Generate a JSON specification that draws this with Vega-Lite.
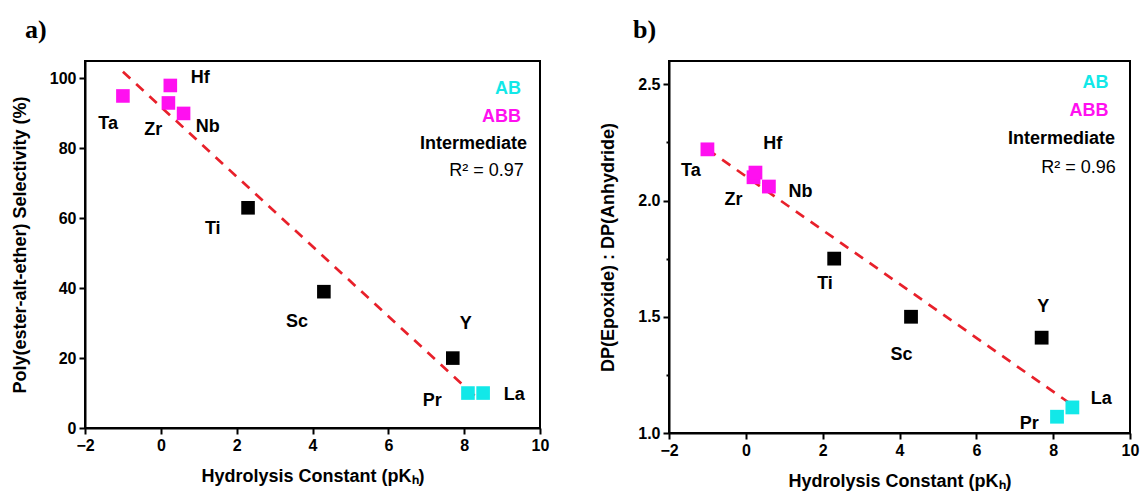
{
  "$schema": "https://vega.github.io/schema/vega-lite/v6.json",
  "background": "white",
  "padding": {"left": 10, "top": 16, "right": 2, "bottom": 2},
  "spacing": 48,
  "config": {
    "view": {"stroke": "black", "strokeWidth": 2},
    "axis": {
      "grid": false,
      "domainColor": "black", "domainWidth": 2,
      "tickColor": "black", "tickWidth": 2,
      "labelFont": "Liberation Sans", "labelFontWeight": "bold", "labelFontSize": 16, "labelColor": "black",
      "titleFont": "Liberation Sans", "titleFontWeight": "bold", "titleFontSize": 18, "titleColor": "black",
      "labelFlush": false, "labelOverlap": false
    },
    "title": {"font": "Liberation Serif", "fontWeight": "bold", "fontSize": 26, "color": "black", "anchor": "start", "frame": "group", "offset": 18}
  },
  "datasets": {
    "pa": [
      {"el": "Ta", "type": "ABB", "pkh": -1.0, "val": 95, "lx": -1.39, "ly": 87},
      {"el": "Zr", "type": "ABB", "pkh": 0.2, "val": 93, "lx": -0.2, "ly": 85.4},
      {"el": "Hf", "type": "ABB", "pkh": 0.25, "val": 98, "lx": 1.04, "ly": 100},
      {"el": "Nb", "type": "ABB", "pkh": 0.6, "val": 90, "lx": 1.24, "ly": 86.1},
      {"el": "Ti", "type": "Intermediate", "pkh": 2.3, "val": 63, "lx": 1.37, "ly": 56.8},
      {"el": "Sc", "type": "Intermediate", "pkh": 4.3, "val": 39, "lx": 3.59, "ly": 30.2},
      {"el": "Y", "type": "Intermediate", "pkh": 7.7, "val": 20, "lx": 8.04, "ly": 29.8},
      {"el": "Pr", "type": "AB", "pkh": 8.1, "val": 10, "lx": 7.16, "ly": 7.6},
      {"el": "La", "type": "AB", "pkh": 8.5, "val": 10, "lx": 9.32, "ly": 9.4}
    ],
    "pb": [
      {"el": "Ta", "type": "ABB", "pkh": -1.0, "val": 2.22, "lx": -1.43, "ly": 2.127},
      {"el": "Zr", "type": "ABB", "pkh": 0.2, "val": 2.10, "lx": -0.32, "ly": 2.002},
      {"el": "Hf", "type": "ABB", "pkh": 0.25, "val": 2.12, "lx": 0.7, "ly": 2.244},
      {"el": "Nb", "type": "ABB", "pkh": 0.6, "val": 2.06, "lx": 1.42, "ly": 2.036},
      {"el": "Ti", "type": "Intermediate", "pkh": 2.3, "val": 1.75, "lx": 2.06, "ly": 1.643},
      {"el": "Sc", "type": "Intermediate", "pkh": 4.3, "val": 1.50, "lx": 4.05, "ly": 1.337},
      {"el": "Y", "type": "Intermediate", "pkh": 7.7, "val": 1.41, "lx": 7.74, "ly": 1.543},
      {"el": "Pr", "type": "AB", "pkh": 8.1, "val": 1.07, "lx": 7.38, "ly": 1.04},
      {"el": "La", "type": "AB", "pkh": 8.5, "val": 1.11, "lx": 9.25, "ly": 1.148}
    ],
    "fa": [{"pkh": -1.0, "val": 101.9}, {"pkh": 8.29, "val": 9.1}],
    "fb": [{"pkh": -1.0, "val": 2.22}, {"pkh": 8.5, "val": 1.12}],
    "la": [
      {"t": "AB", "type": "AB", "x": 9.5, "y": 97.1},
      {"t": "ABB", "type": "ABB", "x": 9.5, "y": 89.1},
      {"t": "Intermediate", "type": "Intermediate", "x": 9.66, "y": 81.3}
    ],
    "ra": [{"t": "R² = 0.97", "x": 9.57, "y": 73.4}],
    "lb": [
      {"t": "AB", "type": "AB", "x": 9.44, "y": 2.507},
      {"t": "ABB", "type": "ABB", "x": 9.44, "y": 2.385},
      {"t": "Intermediate", "type": "Intermediate", "x": 9.61, "y": 2.266}
    ],
    "rb": [{"t": "R² = 0.96", "x": 9.63, "y": 2.141}]
  },
  "hconcat": [
    {
      "width": 455,
      "height": 367,
      "title": {"text": "a)", "dx": -60},
      "layer": [
        {
          "data": {"name": "fa"},
          "mark": {"type": "line", "color": "#E8202A", "strokeWidth": 2.7, "strokeDash": [10, 8]},
          "encoding": {
            "x": {"field": "pkh", "type": "quantitative", "scale": {"domain": [-2, 10], "nice": false, "zero": false},
              "axis": {"title": "Hydrolysis Constant (pKₕ)", "values": [-2,-1,0,1,2,3,4,5,6,7,8,9,10],
                "labelExpr": "datum.value % 2 == 0 ? datum.label : ''",
                "tickSize": {"condition": {"test": "datum.value % 2 == 0", "value": 6}, "value": 3},
                "labelPadding": 3, "titlePadding": 14}},
            "y": {"field": "val", "type": "quantitative", "scale": {"domain": [0, 105], "nice": false, "zero": false},
              "axis": {"title": "Poly(ester-alt-ether) Selectivity (%)", "values": [0,10,20,30,40,50,60,70,80,90,100],
                "labelExpr": "datum.value % 20 == 0 ? datum.label : ''",
                "tickSize": {"condition": {"test": "datum.value % 20 == 0", "value": 6}, "value": 3},
                "labelPadding": 3, "titlePadding": 20}}
          }
        },
        {
          "data": {"name": "pa"},
          "mark": {"type": "point", "shape": "square", "filled": true, "size": 185, "opacity": 1},
          "encoding": {
            "x": {"field": "pkh", "type": "quantitative"},
            "y": {"field": "val", "type": "quantitative"},
            "color": {"field": "type", "type": "nominal", "legend": null,
              "scale": {"domain": ["AB", "ABB", "Intermediate"], "range": ["#12E8E8", "#FF10F0", "#000000"]}}
          }
        },
        {
          "data": {"name": "pa"},
          "mark": {"type": "text", "font": "Liberation Sans", "fontWeight": "bold", "fontSize": 18, "color": "black", "align": "center", "baseline": "middle"},
          "encoding": {
            "x": {"field": "lx", "type": "quantitative"},
            "y": {"field": "ly", "type": "quantitative"},
            "text": {"field": "el"}
          }
        },
        {
          "data": {"name": "la"},
          "mark": {"type": "text", "font": "Liberation Sans", "fontWeight": "bold", "fontSize": 18, "align": "right", "baseline": "middle"},
          "encoding": {
            "x": {"field": "x", "type": "quantitative"},
            "y": {"field": "y", "type": "quantitative"},
            "text": {"field": "t"},
            "color": {"field": "type", "type": "nominal", "legend": null}
          }
        },
        {
          "data": {"name": "ra"},
          "mark": {"type": "text", "font": "Liberation Sans", "fontSize": 18, "color": "black", "align": "right", "baseline": "middle"},
          "encoding": {
            "x": {"field": "x", "type": "quantitative"},
            "y": {"field": "y", "type": "quantitative"},
            "text": {"field": "t"}
          }
        }
      ]
    },
    {
      "width": 461,
      "height": 372,
      "title": {"text": "b)", "dx": -36},
      "layer": [
        {
          "data": {"name": "fb"},
          "mark": {"type": "line", "color": "#E8202A", "strokeWidth": 2.7, "strokeDash": [10, 8]},
          "encoding": {
            "x": {"field": "pkh", "type": "quantitative", "scale": {"domain": [-2, 10], "nice": false, "zero": false},
              "axis": {"title": "Hydrolysis Constant (pKₕ)", "values": [-2,-1,0,1,2,3,4,5,6,7,8,9,10],
                "labelExpr": "datum.value % 2 == 0 ? datum.label : ''",
                "tickSize": {"condition": {"test": "datum.value % 2 == 0", "value": 6}, "value": 3},
                "labelPadding": 3, "titlePadding": 14}},
            "y": {"field": "val", "type": "quantitative", "scale": {"domain": [1, 2.6], "nice": false, "zero": false},
              "axis": {"title": "DP(Epoxide) : DP(Anhydride)", "values": [1,1.25,1.5,1.75,2,2.25,2.5], "format": ".1f",
                "labelExpr": "(datum.value * 4) % 2 == 0 ? datum.label : ''",
                "tickSize": {"condition": {"test": "(datum.value * 4) % 2 == 0", "value": 6}, "value": 3},
                "labelPadding": 3, "titlePadding": 20}}
          }
        },
        {
          "data": {"name": "pb"},
          "mark": {"type": "point", "shape": "square", "filled": true, "size": 190, "opacity": 1},
          "encoding": {
            "x": {"field": "pkh", "type": "quantitative"},
            "y": {"field": "val", "type": "quantitative"},
            "color": {"field": "type", "type": "nominal", "legend": null,
              "scale": {"domain": ["AB", "ABB", "Intermediate"], "range": ["#12E8E8", "#FF10F0", "#000000"]}}
          }
        },
        {
          "data": {"name": "pb"},
          "mark": {"type": "text", "font": "Liberation Sans", "fontWeight": "bold", "fontSize": 18, "color": "black", "align": "center", "baseline": "middle"},
          "encoding": {
            "x": {"field": "lx", "type": "quantitative"},
            "y": {"field": "ly", "type": "quantitative"},
            "text": {"field": "el"}
          }
        },
        {
          "data": {"name": "lb"},
          "mark": {"type": "text", "font": "Liberation Sans", "fontWeight": "bold", "fontSize": 18, "align": "right", "baseline": "middle"},
          "encoding": {
            "x": {"field": "x", "type": "quantitative"},
            "y": {"field": "y", "type": "quantitative"},
            "text": {"field": "t"},
            "color": {"field": "type", "type": "nominal", "legend": null}
          }
        },
        {
          "data": {"name": "rb"},
          "mark": {"type": "text", "font": "Liberation Sans", "fontSize": 18, "color": "black", "align": "right", "baseline": "middle"},
          "encoding": {
            "x": {"field": "x", "type": "quantitative"},
            "y": {"field": "y", "type": "quantitative"},
            "text": {"field": "t"}
          }
        }
      ]
    }
  ]
}
